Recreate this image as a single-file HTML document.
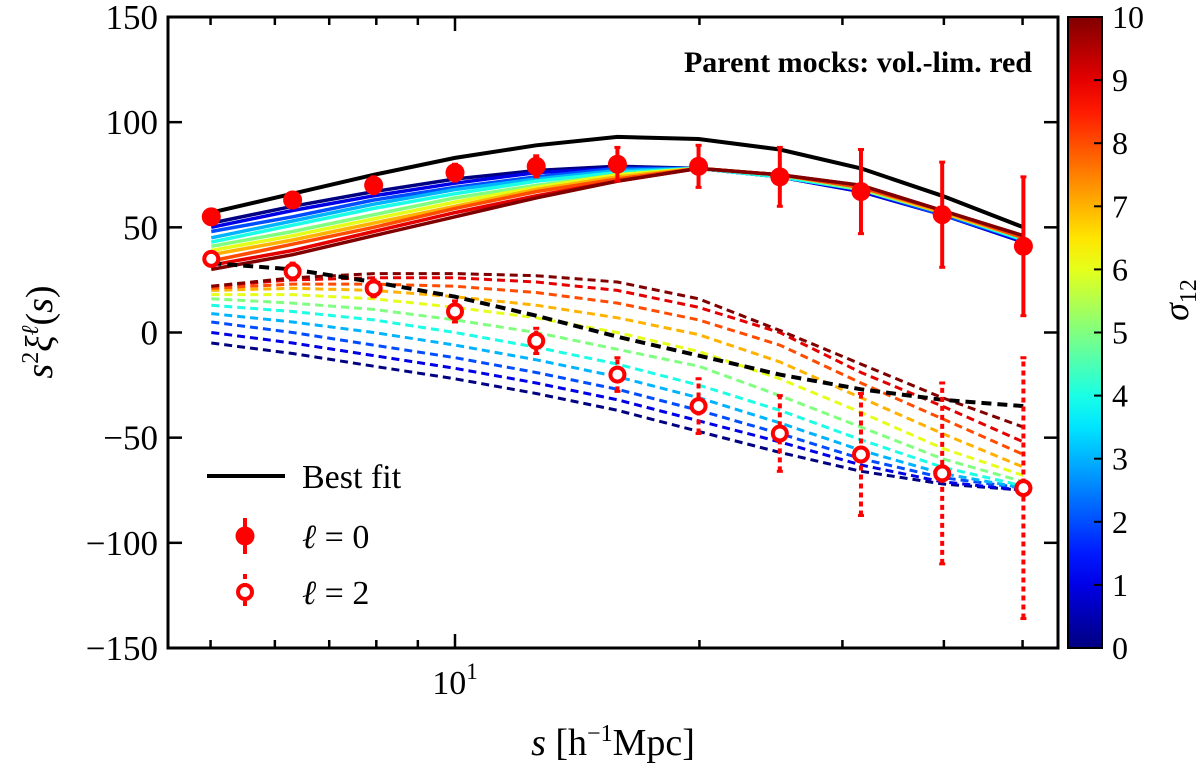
<!DOCTYPE html>
<html><head><meta charset="utf-8"><style>
body{margin:0;background:#fff;}
svg{display:block;font-family:"Liberation Serif",serif;}
</style></head><body>
<svg id="c" width="1200" height="769" viewBox="0 0 1200 769"></svg>
<script>
const sVals=[5.01,6.31,7.94,10,12.59,15.85,19.95,25.12,31.62,39.81,50.12];
const mono=[55,63,70,76,79,80,79,74,67,56,41];
const monoErr=[3,3,4,4,5,8,10,14,20,25,33];
const quad=[35,29,21,10,-4,-20,-35,-48,-58,-67,-74];
const quadErr=[3,4,4,5,6,8,13,18,29,43,62];
const bestMono=[57,66,75,83,89,93,92,87,78,65,50];
const bestQuad=[33,30,24,17,8,-2,-11,-20,-27,-32,-35];
const sigmas=[0,1,2,3,4,5,6,7,8,9,10];
const modelMono=[
[52,60,67,73,77,79,78,74,67,56,43],
[50,58,65,71,76,78,78,74,67,56,43],
[48,55,63,69,74,78,78,74,68,56,44],
[45,53,61,68,73,77,78,74,68,57,44],
[43,51,59,66,72,76,78,74,68,57,44],
[41,48,56,64,70,75,78,75,68,57,45],
[39,46,54,62,69,75,78,75,69,57,45],
[37,44,52,60,68,74,78,75,69,57,45],
[34,42,50,59,67,73,78,75,69,58,45],
[32,39,48,57,65,72,78,75,70,58,46],
[30,37,46,55,64,72,78,75,70,58,46]];
const modelQuad=[
[-5,-10,-16,-22,-29,-37,-47,-57,-66,-72,-75],
[0,-5,-11,-17,-24,-32,-42,-52,-63,-71,-75],
[5,0,-6,-12,-19,-27,-37,-48,-60,-69,-74],
[9,5,0,-6,-13,-21,-31,-43,-56,-67,-74],
[13,10,6,0,-7,-15,-25,-37,-51,-64,-73],
[16,14,11,6,0,-8,-16,-30,-45,-60,-71],
[18,18,16,12,7,0,-9,-22,-38,-55,-68],
[20,21,20,17,13,7,-1,-14,-31,-48,-64],
[21,23,23,22,19,14,6,-6,-24,-41,-58],
[22,25,26,26,24,20,12,0,-19,-35,-52],
[22,26,28,28,27,24,16,1,-15,-31,-45]];
const yTicks=[-150,-100,-50,0,50,100,150];
const cbTicks=[0,1,2,3,4,5,6,7,8,9,10];

const NS="http://www.w3.org/2000/svg";
const svg=document.getElementById('c');
const L=168,R=1058,T=17,B=648;
const X=s=>455+812*(Math.log10(s)-1);
const Y=v=>B-(v+150)/300*(B-T);
function el(tag,a,parent){const e=document.createElementNS(NS,tag);for(const k in a)e.setAttribute(k,a[k]);(parent||svg).appendChild(e);return e;}
function jet(t){const r=Math.min(Math.max(1.5-Math.abs(4*t-3),0),1),g=Math.min(Math.max(1.5-Math.abs(4*t-2),0),1),b=Math.min(Math.max(1.5-Math.abs(4*t-1),0),1);return `rgb(${Math.round(r*255)},${Math.round(g*255)},${Math.round(b*255)})`;}
function pathOf(arr){return arr.map((v,i)=>(i?'L':'M')+X(sVals[i]).toFixed(1)+' '+Y(v).toFixed(1)).join(' ');}

const gm=el('g',{});


modelMono.forEach((arr,k)=>{const p=el('path',{d:pathOf(arr),fill:'none',stroke:jet(sigmas[k]/10),'stroke-width':3.5},gm);

});
modelQuad.forEach((arr,k)=>{const p=el('path',{d:pathOf(arr),fill:'none',stroke:jet(sigmas[k]/10),'stroke-width':3,'stroke-dasharray':'8,5'},gm);

});

let bf=el('path',{d:pathOf(bestMono),fill:'none',stroke:'#000','stroke-width':4});


bf=el('path',{d:pathOf(bestQuad),fill:'none',stroke:'#000','stroke-width':4,'stroke-dasharray':'10,6'});



sVals.forEach((s,i)=>{
 const x=X(s);
 let e=el('line',{x1:x,x2:x,y1:Y(mono[i]-monoErr[i]),y2:Y(mono[i]+monoErr[i]),stroke:'#f00','stroke-width':4});
 
 
 el('line',{x1:x-3,x2:x+3,y1:Y(mono[i]-monoErr[i]),y2:Y(mono[i]-monoErr[i]),stroke:'#f00','stroke-width':3});
 el('line',{x1:x-3,x2:x+3,y1:Y(mono[i]+monoErr[i]),y2:Y(mono[i]+monoErr[i]),stroke:'#f00','stroke-width':3});
 e=el('circle',{cx:x,cy:Y(mono[i]),r:9.5,fill:'#f00'});
 
 
 e=el('line',{x1:x,x2:x,y1:Y(quad[i]-quadErr[i]),y2:Y(quad[i]+quadErr[i]),stroke:'#f00','stroke-width':4,'stroke-dasharray':'5,4'});
 
 
 el('line',{x1:x-3,x2:x+3,y1:Y(quad[i]-quadErr[i]),y2:Y(quad[i]-quadErr[i]),stroke:'#f00','stroke-width':3});
 el('line',{x1:x-3,x2:x+3,y1:Y(quad[i]+quadErr[i]),y2:Y(quad[i]+quadErr[i]),stroke:'#f00','stroke-width':3});
 e=el('circle',{cx:x,cy:Y(quad[i]),r:7,fill:'#fff',stroke:'#f00','stroke-width':4});
 
 
});

let fr=el('rect',{x:L,y:T,width:R-L,height:B-T,fill:'none',stroke:'#000','stroke-width':3});


yTicks.forEach(v=>{const y=Y(v);
 el('line',{x1:L,x2:L+14,y1:y,y2:y,stroke:'#000','stroke-width':2.5});
 el('line',{x1:R,x2:R-14,y1:y,y2:y,stroke:'#000','stroke-width':2.5});
 const t=el('text',{x:L-10,y:y+12,'text-anchor':'end','font-size':35});
 t.textContent=(v<0?'\u2212'+(-v):v);
 
 
});
[5,6,7,8,9,10,20,30,40,50].forEach(s=>{const x=X(s),len=s===10?14:8;
 el('line',{x1:x,x2:x,y1:B,y2:B-len,stroke:'#000','stroke-width':2.5});
 el('line',{x1:x,x2:x,y1:T,y2:T+len,stroke:'#000','stroke-width':2.5});
});
let tx=el('text',{x:X(10),y:B+46,'text-anchor':'middle','font-size':34});
tx.innerHTML='10<tspan dy="-15" font-size="23">1</tspan>';



let xt=el('text',{x:613,y:755,'text-anchor':'middle','font-size':38});
xt.innerHTML='<tspan font-style="italic">s</tspan> [h<tspan dy="-14" font-size="24">\u22121</tspan><tspan dy="14">Mpc]</tspan>';


let yt=el('text',{x:0,y:0,'text-anchor':'middle','font-size':38,transform:'translate(52,332) rotate(-90)'});
yt.innerHTML='<tspan font-style="italic">s</tspan><tspan dy="-14" font-size="24">2</tspan><tspan dy="14" font-style="italic">\u03BE</tspan><tspan dy="-14" font-size="24" font-style="italic">\u2113</tspan><tspan dy="14">(</tspan><tspan font-style="italic">s</tspan>)';



let an=el('text',{x:1032,y:72,'text-anchor':'end','font-size':30,'font-weight':'bold'});
an.textContent='Parent mocks: vol.-lim. red';



const lg=el('g',{});


el('line',{x1:207,x2:285,y1:476,y2:476,stroke:'#000','stroke-width':4},lg);
let lt=el('text',{x:302,y:488,'font-size':34},lg);lt.textContent='Best fit';


el('line',{x1:245,x2:245,y1:518,y2:554,stroke:'#f00','stroke-width':4},lg);
el('circle',{cx:245,cy:536,r:9.5,fill:'#f00'},lg);
lt=el('text',{x:302,y:548,'font-size':34},lg);lt.innerHTML='<tspan font-style="italic">\u2113</tspan> = 0';


el('line',{x1:245,x2:245,y1:574,y2:610,stroke:'#f00','stroke-width':4,'stroke-dasharray':'5,4'},lg);
el('circle',{cx:245,cy:592,r:7,fill:'#fff',stroke:'#f00','stroke-width':4},lg);
lt=el('text',{x:302,y:604,'font-size':34},lg);lt.innerHTML='<tspan font-style="italic">\u2113</tspan> = 2';



const defs=el('defs',{});
const gr=el('linearGradient',{id:'jet',x1:0,y1:1,x2:0,y2:0},defs);
for(let i=0;i<=20;i++)el('stop',{offset:i/20,'stop-color':jet(i/20)},gr);
let cb=el('rect',{x:1068,y:T,width:34,height:B-T,fill:'url(#jet)',stroke:'#000','stroke-width':2});


cbTicks.forEach(v=>{const y=B-v/10*(B-T);
 el('line',{x1:1102,x2:1094,y1:y,y2:y,stroke:'#000','stroke-width':2});
 const t=el('text',{x:1112,y:y+11,'font-size':32});t.textContent=v;
 
 
});
let ct=el('text',{x:0,y:0,'text-anchor':'middle','font-size':36,transform:'translate(1188,300) rotate(-90)'});
ct.innerHTML='<tspan font-style="italic">\u03C3</tspan><tspan dy="8" font-size="24">12</tspan>';


</script>
</body></html>
